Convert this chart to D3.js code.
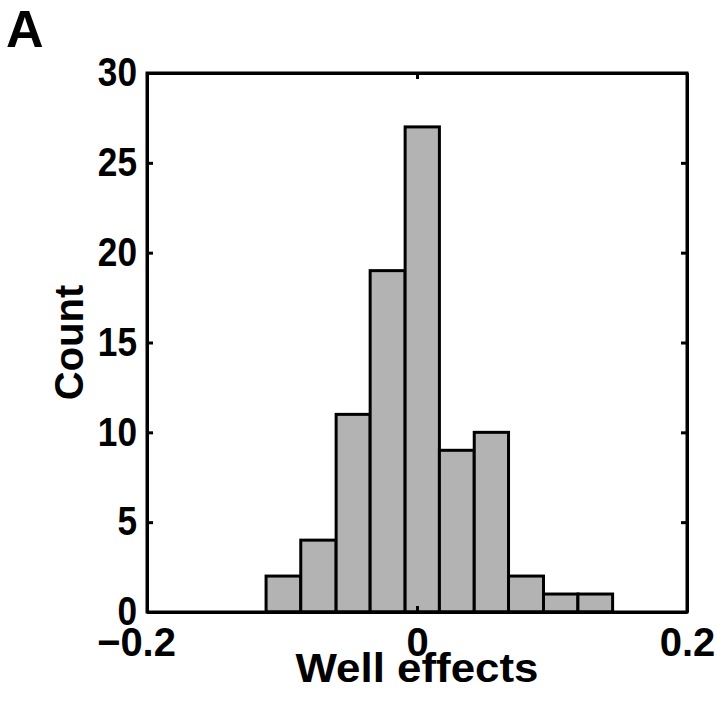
<!DOCTYPE html>
<html>
<head>
<meta charset="utf-8">
<script src="https://cdn.jsdelivr.net/npm/d3@7"></script>
<style>
  body { margin: 0; background: #fff; }
  text { font-family: "Liberation Sans", Arial, Helvetica, sans-serif; font-weight: bold; fill: #000; }
</style>
</head>
<body>
<svg id="chart" width="717" height="702"></svg>
<script>
// histogram of well effects
const bin_edges = [-0.1118, -0.0861, -0.0599, -0.0347, -0.0088, 0.0166, 0.0424, 0.0678, 0.0937, 0.1192, 0.1449];
const counts = [2, 4, 11, 19, 27, 9, 10, 2, 1, 1];
const x_ticks = [-0.2, 0, 0.2];
const y_ticks = [0, 5, 10, 15, 20, 25, 30];

const svg = d3.select("svg#chart");
const margin = { left: 147, right: 30, top: 73, bottom: 90 };
const width = 717 - margin.left - margin.right;
const height = 702 - margin.top - margin.bottom;

const x = d3.scaleLinear().domain([-0.2, 0.2]).range([0, width]);
const y = d3.scaleLinear().domain([0, 30]).range([height, 0]);

const bins = counts.map((c, i) => ({ x0: bin_edges[i], x1: bin_edges[i + 1], count: c }));

const g = svg.append("g").attr("transform", `translate(${margin.left}, ${margin.top})`);

g.selectAll("rect.bar")
  .data(bins)
  .join("rect")
  .attr("class", "bar")
  .attr("x", (d) => x(d.x0))
  .attr("y", (d) => y(d.count))
  .attr("width", (d) => x(d.x1) - x(d.x0))
  .attr("height", (d) => y(0) - y(d.count))
  .attr("fill", "#b3b3b3")
  .attr("stroke", "black")
  .attr("stroke-width", 3);

// axes, ticks inside like matlab
const tick_len = 6;
const left_axis = d3.axisLeft(y).tickValues(y_ticks).tickSizeInner(-tick_len).tickSizeOuter(0).tickPadding(10);
const right_axis = d3.axisRight(y).tickValues(y_ticks).tickSizeInner(-tick_len).tickSizeOuter(0).tickFormat("");
const bottom_axis = d3.axisBottom(x).tickValues(x_ticks).tickSizeInner(-tick_len).tickSizeOuter(0).tickPadding(16)
  .tickFormat((d) => d === 0 ? "0" : d3.format(".1f")(d).replace("-", "\u2212"));
const top_axis = d3.axisTop(x).tickValues(x_ticks).tickSizeInner(-tick_len).tickSizeOuter(0).tickFormat("");

function style_axis(sel) {
  sel.select(".domain").attr("stroke", "black").attr("stroke-width", 3);
  sel.selectAll(".tick line").attr("stroke", "black").attr("stroke-width", 3);
  sel.selectAll(".tick text").attr("font-size", 40).attr("fill", "black")
    .attr("font-family", "'Liberation Sans', Arial, sans-serif").attr("font-weight", "bold");
}

const y_axis_g = g.append("g").call(left_axis).call(style_axis);
g.append("g").attr("transform", `translate(${width}, 0)`).call(right_axis).call(style_axis);
const x_axis_g = g.append("g").attr("transform", `translate(0, ${height})`).call(bottom_axis).call(style_axis);
g.append("g").call(top_axis).call(style_axis);

// y labels a bit narrower in the original
y_axis_g.selectAll(".tick text").each(function () {
  const len = this.getComputedTextLength();
  d3.select(this).attr("textLength", len * 0.88).attr("lengthAdjust", "spacingAndGlyphs");
});
// matlab keeps the number centred and lets the minus hang out left
x_axis_g.selectAll(".tick text").filter((d) => d < 0).attr("dx", -11);

// box
g.append("rect")
  .attr("x", 0).attr("y", 0).attr("width", width).attr("height", height)
  .attr("fill", "none").attr("stroke", "black").attr("stroke-width", 3);

svg.append("text")
  .attr("x", margin.left + width / 2)
  .attr("y", 682)
  .attr("text-anchor", "middle")
  .attr("font-size", 40)
  .attr("textLength", 243)
  .attr("lengthAdjust", "spacingAndGlyphs")
  .text("Well effects");

svg.append("text")
  .attr("transform", `translate(83, ${margin.top + height / 2}) rotate(-90)`)
  .attr("text-anchor", "middle")
  .attr("font-size", 40)
  .text("Count");

svg.append("text")
  .attr("x", 6)
  .attr("y", 47)
  .attr("font-size", 52)
  .text("A");
</script>
</body>
</html>
